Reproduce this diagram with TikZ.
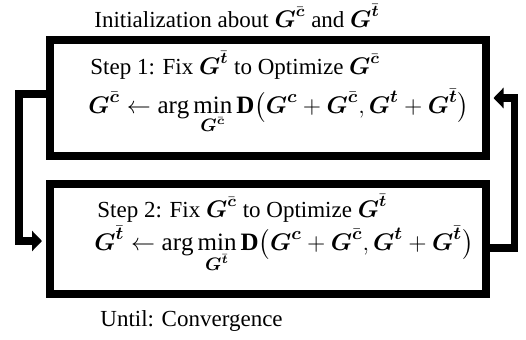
\documentclass[tikz,border=0pt]{standalone}
\usepackage{amsmath,amssymb}
\usepackage{fontspec}
\setmainfont{Liberation Serif}
\usetikzlibrary{arrows.meta,calc}
\newcommand{\Gc}{\boldsymbol{G}^{\boldsymbol{c}}}
\newcommand{\Gt}{\boldsymbol{G}^{\boldsymbol{t}}}
\newcommand{\Gcb}{\boldsymbol{G}^{\bar{\boldsymbol{c}}}}
\newcommand{\Gtb}{\boldsymbol{G}^{\bar{\boldsymbol{t}}}}

\begin{document}
\begin{tikzpicture}[
  x=0.5pt, y=-0.5pt,
  stepbox/.style={rectangle, draw=black, line width=3.75pt,
    minimum width=218pt, minimum height=#1, inner sep=0pt},
  label/.style={anchor=base west, inner sep=0pt, font=\fontsize{11.5}{13}\selectfont},
  formula/.style={anchor=base west, inner sep=0pt, font=\fontsize{12.5}{15}\selectfont},
  loop/.style={line width=3.75pt, -{Triangle[length=5pt,width=10pt]}, shorten >=2pt},
]
\useasboundingbox (0,0) rectangle (526,339);
\node[stepbox=58pt] (box1) at (267.75, 98) {};
\node[stepbox=55pt] (box2) at (267.75, 239) {};
\node[label] (init) at (94, 27) {Initialization about $\Gcb$ and $\Gtb$};
\node[label] (step1) at (90, 74) {Step 1: Fix $\Gtb$ to Optimize $\Gcb$};
\node[formula] (eq1) at (88, 113)
  {$\Gcb \leftarrow \arg\min\limits_{\Gcb} \mathbf{D}\big(\Gc + \Gcb, \Gt + \Gtb\big)$};
\node[label] (step2) at (97, 217) {Step 2: Fix $\Gcb$ to Optimize $\Gtb$};
\node[formula] (eq2) at (94, 250)
  {$\Gtb \leftarrow \arg\min\limits_{\Gtb} \mathbf{D}\big(\Gc + \Gcb, \Gt + \Gtb\big)$};
\node[label] (until) at (100, 326) {Until: Convergence};
\draw[loop] ($(box1.west)+(0,-4)$) -- ++(-27,0) |- ($(box2.west)+(0,2)$);
\draw[loop] ($(box2.east)+(0,9)$) -- ++(25,0) |- (box1.east);
\end{tikzpicture}
\end{document}
